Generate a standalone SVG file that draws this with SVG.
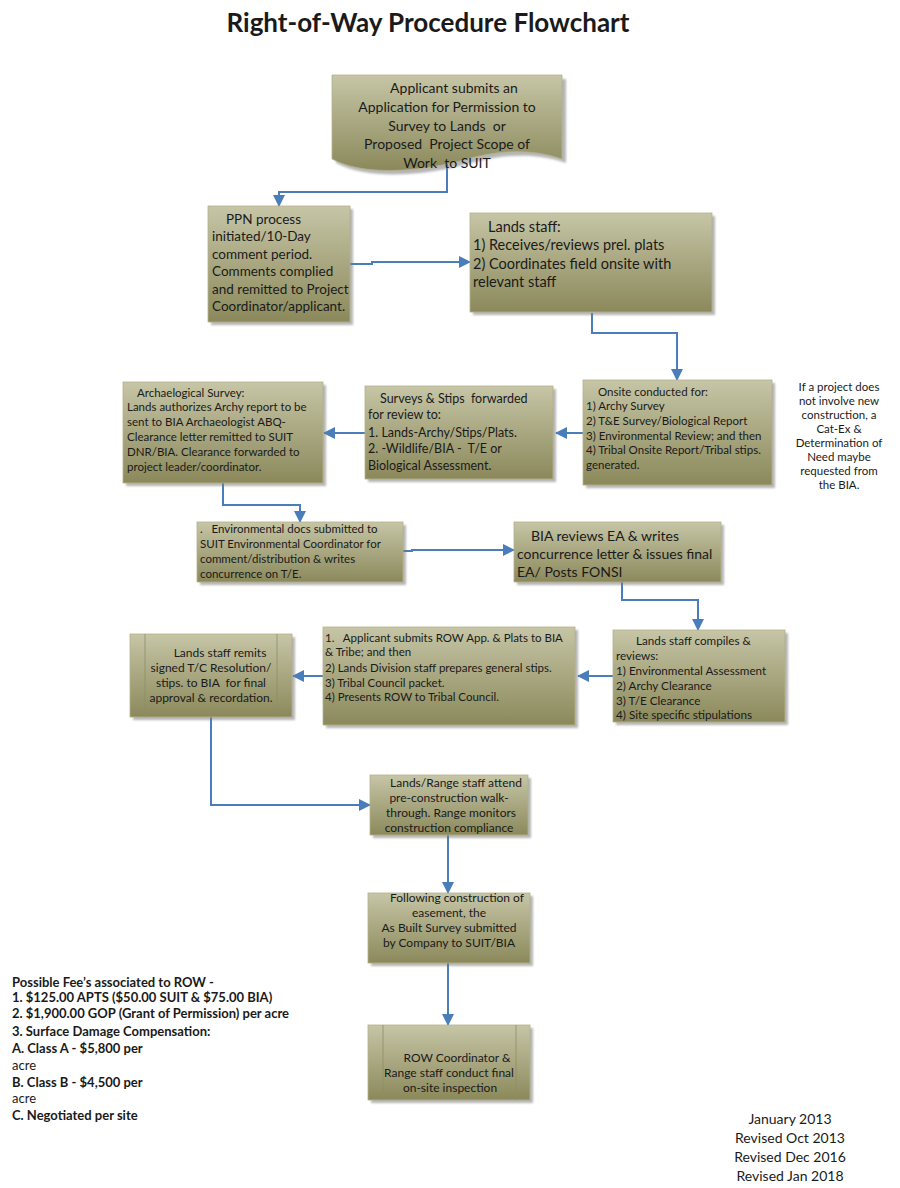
<svg xmlns="http://www.w3.org/2000/svg" width="900" height="1188" viewBox="0 0 900 1188">
<style>
text{font-family:Lato,"Liberation Sans",sans-serif;fill:#1a1a1a;white-space:pre}
.title{font-size:26px;font-weight:bold}
.box{fill:url(#olive);stroke:#b3b18a;stroke-width:0.8}
.shadow{fill:#7a7a7a;opacity:0.55;filter:url(#blur)}
.line{fill:none;stroke:#4a7ebb;stroke-width:2;marker-end:url(#arrow)}
.sep{stroke:#8f8d66;stroke-width:0.8}
.t145{font-size:14.5px}
.t14{font-size:14px}
.t135{font-size:13.5px}
.t125{font-size:12.5px}
.t12{font-size:12px}
.t117{font-size:11.7px}
.t115{font-size:11.5px}
.fees{font-size:13px;font-weight:bold}
.reg{font-size:13px}
.dates{font-size:14px}
.mid{text-anchor:middle}
</style>
<defs>
<linearGradient id="olive" x1="0" y1="0" x2="0" y2="1">
<stop offset="0" stop-color="#c6c5a6"/>
<stop offset="1" stop-color="#8b895b"/>
</linearGradient>
<filter id="blur" x="-10%" y="-10%" width="120%" height="120%"><feGaussianBlur stdDeviation="1.2"/></filter>
<marker id="arrow" markerUnits="userSpaceOnUse" markerWidth="12" markerHeight="12" viewBox="0 0 12 12" refX="11" refY="6" orient="auto">
<path d="M0,0 L12,6 L0,12 Z" fill="#4a7ebb"/>
</marker>
</defs>
<rect width="900" height="1188" fill="#ffffff"/>

<text class="title mid" x="428" y="32">Right-of-Way Procedure Flowchart</text>

<g id="connectors">
<polyline class="line" points="447,163 447,192 279,192 279,206"/>
<polyline class="line" points="350,264 372,264 372,262 470,262"/>
<polyline class="line" points="592,313 592,333 677,333 677,380"/>
<polyline class="line" points="583,433 556,433"/>
<polyline class="line" points="365,433 324,433"/>
<polyline class="line" points="223,483 223,505 300,505 300,522"/>
<polyline class="line" points="403,551 412,551 412,550 514,550"/>
<polyline class="line" points="622,582 622,600 698,600 698,630"/>
<polyline class="line" points="613,676 578,676"/>
<polyline class="line" points="323,676 293,676"/>
<polyline class="line" points="211,717 211,805 370,805"/>
<polyline class="line" points="448,835 448,893"/>
<polyline class="line" points="448,963 448,1025"/>
</g>

<g id="n1">
<path class="shadow" d="M336,79 H566 V163 C535,152 500,154 464,165 C420,176 368,180 336,163 Z"/>
<path class="box" d="M332,75 H562 V159 C531,148 496,150 460,161 C416,172 364,176 332,159 Z"/>
<text class="t14 mid" x="454" y="93">Applicant submits an</text>
<text class="t14 mid" x="447" y="112">Application for Permission to</text>
<text class="t14 mid" x="447" y="131">Survey to Lands  or</text>
<text class="t14 mid" x="447" y="149">Proposed  Project Scope of</text>
<text class="t14 mid" x="447" y="168">Work  to SUIT</text>
</g>

<g id="n2">
<rect class="shadow" x="211" y="209" width="142" height="116"/>
<rect class="box" x="208" y="206" width="142" height="116"/>
<text class="t135" x="226" y="224">PPN process</text>
<text class="t135" x="212" y="241">initiated/10-Day</text>
<text class="t135" x="212" y="259">comment period.</text>
<text class="t135" x="212" y="276">Comments complied</text>
<text class="t135" x="212" y="294">and remitted to Project</text>
<text class="t135" x="212" y="311">Coordinator/applicant.</text>
</g>

<g id="n3">
<rect class="shadow" x="473" y="216" width="242" height="99"/>
<rect class="box" x="470" y="213" width="242" height="99"/>
<text class="t145" x="488" y="232">Lands staff:</text>
<text class="t145" x="473" y="250">1) Receives/reviews prel. plats</text>
<text class="t145" x="473" y="269">2) Coordinates field onsite with</text>
<text class="t145" x="473" y="287">relevant staff</text>
</g>

<g id="n4">
<rect class="shadow" x="586" y="383" width="189" height="105"/>
<rect class="box" x="583" y="380" width="189" height="105"/>
<text class="t115" x="598" y="396">Onsite conducted for:</text>
<text class="t115" x="586" y="410">1) Archy Survey</text>
<text class="t115" x="586" y="425">2) T&amp;E Survey/Biological Report</text>
<text class="t115" x="586" y="440">3) Environmental Review; and then</text>
<text class="t115" x="586" y="454">4) Tribal Onsite Report/Tribal stips.</text>
<text class="t115" x="586" y="469">generated.</text>
</g>

<g id="note">
<text class="t115 mid" x="839" y="391">If a project does</text>
<text class="t115 mid" x="839" y="405">not involve new</text>
<text class="t115 mid" x="839" y="419">construction, a</text>
<text class="t115 mid" x="839" y="433">Cat-Ex &amp;</text>
<text class="t115 mid" x="839" y="447">Determination of</text>
<text class="t115 mid" x="839" y="461">Need maybe</text>
<text class="t115 mid" x="839" y="475">requested from</text>
<text class="t115 mid" x="839" y="489">the BIA.</text>
</g>

<g id="n5">
<rect class="shadow" x="368" y="389" width="188" height="93"/>
<rect class="box" x="365" y="386" width="188" height="93"/>
<text class="t125" x="380" y="403">Surveys &amp; Stips  forwarded</text>
<text class="t125" x="368" y="419">for review to:</text>
<text class="t125" x="368" y="437">1. Lands-Archy/Stips/Plats.</text>
<text class="t125" x="368" y="453">2. -Wildlife/BIA -  T/E or</text>
<text class="t125" x="368" y="470">Biological Assessment.</text>
</g>

<g id="n6">
<rect class="shadow" x="126" y="385" width="200" height="101"/>
<rect class="box" x="123" y="382" width="200" height="101"/>
<text class="t115" x="137" y="397">Archaelogical Survey:</text>
<text class="t115" x="127" y="411">Lands authorizes Archy report to be</text>
<text class="t115" x="127" y="426">sent to BIA Archaeologist ABQ-</text>
<text class="t115" x="127" y="441">Clearance letter remitted to SUIT</text>
<text class="t115" x="127" y="456">DNR/BIA. Clearance forwarded to</text>
<text class="t115" x="127" y="471">project leader/coordinator.</text>
</g>

<g id="n7">
<rect class="shadow" x="200" y="525" width="206" height="60"/>
<rect class="box" x="197" y="522" width="206" height="60"/>
<text class="t115" x="200" y="533">.   Environmental docs submitted to</text>
<text class="t115" x="200" y="548">SUIT Environmental Coordinator for</text>
<text class="t115" x="200" y="563">comment/distribution &amp; writes</text>
<text class="t115" x="200" y="578">concurrence on T/E.</text>
</g>

<g id="n8">
<rect class="shadow" x="517" y="525" width="207" height="60"/>
<rect class="box" x="514" y="522" width="207" height="60"/>
<text class="t14" x="531" y="541">BIA reviews EA &amp; writes</text>
<text class="t14" x="517" y="559">concurrence letter &amp; issues final</text>
<text class="t14" x="517" y="577">EA/ Posts FONSI</text>
</g>

<g id="n9">
<rect class="shadow" x="616" y="633" width="172" height="92"/>
<rect class="box" x="613" y="630" width="172" height="92"/>
<text class="t117" x="636" y="645">Lands staff compiles &amp;</text>
<text class="t117" x="616" y="660">reviews:</text>
<text class="t117" x="616" y="675">1) Environmental Assessment</text>
<text class="t117" x="616" y="690">2) Archy Clearance</text>
<text class="t117" x="616" y="705">3) T/E Clearance</text>
<text class="t117" x="616" y="719">4) Site specific stipulations</text>
</g>

<g id="n10">
<rect class="shadow" x="326" y="630" width="252" height="98"/>
<rect class="box" x="323" y="627" width="252" height="98"/>
<text class="t115" x="325" y="642">1.   Applicant submits ROW App. &amp; Plats to BIA</text>
<text class="t115" x="325" y="656">&amp; Tribe; and then</text>
<text class="t115" x="325" y="672">2) Lands Division staff prepares general stips.</text>
<text class="t115" x="325" y="687">3) Tribal Council packet.</text>
<text class="t115" x="325" y="701">4) Presents ROW to Tribal Council.</text>
</g>

<g id="n11">
<rect class="shadow" x="133" y="637" width="162" height="83"/>
<rect class="box" x="130" y="634" width="162" height="83"/>
<line class="sep" x1="145" y1="634" x2="145" y2="717"/>
<line class="sep" x1="277" y1="634" x2="277" y2="717"/>
<text class="t12 mid" x="220" y="657">Lands staff remits</text>
<text class="t12 mid" x="211" y="672">signed T/C Resolution/</text>
<text class="t12 mid" x="211" y="687">stips. to BIA  for final</text>
<text class="t12 mid" x="211" y="702">approval &amp; recordation.</text>
</g>

<g id="n12">
<rect class="shadow" x="373" y="778" width="158" height="60"/>
<rect class="box" x="370" y="775" width="158" height="60"/>
<text class="t12 mid" x="456" y="787">Lands/Range staff attend</text>
<text class="t12 mid" x="449" y="802">pre-construction walk-</text>
<text class="t12 mid" x="451" y="817">through. Range monitors</text>
<text class="t12 mid" x="449" y="832">construction compliance</text>
</g>

<g id="n13">
<rect class="shadow" x="371" y="896" width="162" height="70"/>
<rect class="box" x="368" y="893" width="162" height="70"/>
<text class="t12 mid" x="457" y="902">Following construction of</text>
<text class="t12 mid" x="449" y="917">easement, the</text>
<text class="t12 mid" x="449" y="932">As Built Survey submitted</text>
<text class="t12 mid" x="449" y="947">by Company to SUIT/BIA</text>
</g>

<g id="n14">
<rect class="shadow" x="371" y="1028" width="162" height="75"/>
<rect class="box" x="368" y="1025" width="162" height="75"/>
<line class="sep" x1="383" y1="1025" x2="383" y2="1100"/>
<line class="sep" x1="516" y1="1025" x2="516" y2="1100"/>
<text class="t12 mid" x="457" y="1062">ROW Coordinator &amp;</text>
<text class="t12 mid" x="449" y="1077">Range staff conduct final</text>
<text class="t12 mid" x="450" y="1092">on-site inspection</text>
</g>

<g id="fees">
<text class="fees" x="12" y="987">Possible Fee’s associated to ROW -</text>
<text class="fees" x="12" y="1002">1. $125.00 APTS ($50.00 SUIT &amp; $75.00 BIA)</text>
<text class="fees" x="12" y="1018">2. $1,900.00 GOP (Grant of Permission) per acre</text>
<text class="fees" x="12" y="1036">3. Surface Damage Compensation:</text>
<text class="fees" x="12" y="1053">A. Class A - $5,800 per</text>
<text class="reg" x="12" y="1070">acre</text>
<text class="fees" x="12" y="1087">B. Class B - $4,500 per</text>
<text class="reg" x="12" y="1103">acre</text>
<text class="fees" x="12" y="1120">C. Negotiated per site</text>
</g>

<g id="dates">
<text class="dates mid" x="790" y="1124">January 2013</text>
<text class="dates mid" x="790" y="1143">Revised Oct 2013</text>
<text class="dates mid" x="790" y="1162">Revised Dec 2016</text>
<text class="dates mid" x="790" y="1181">Revised Jan 2018</text>
</g>
</svg>
